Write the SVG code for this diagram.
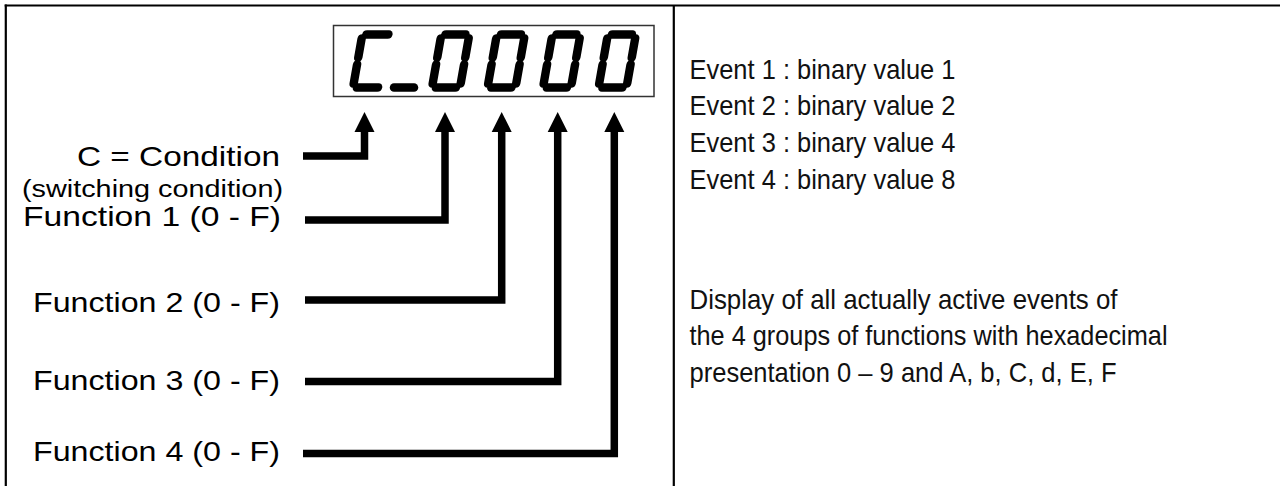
<svg xmlns="http://www.w3.org/2000/svg" width="1280" height="486" viewBox="0 0 1280 486">
<style>
.frame{stroke:#000;stroke-width:2.2;fill:none}
.lbl{font-family:"Liberation Sans",Arial,sans-serif;fill:#000}
.rt{font-family:"Liberation Sans",Arial,sans-serif;font-size:28px;fill:#111}
.conn{stroke:#000;stroke-width:7.5;fill:none;stroke-linejoin:miter;marker-end:url(#ah)}
.seg{stroke:#000;stroke-width:8.5;stroke-linecap:round;fill:none}
</style>
<defs>
<marker id="ah" markerUnits="userSpaceOnUse" markerWidth="21" markerHeight="22" refX="1" refY="10" orient="auto" viewBox="0 0 21 20">
<path d="M0,0 L20,10 L0,20 Z" fill="#000"/>
</marker>
<g id="zero" class="seg">
<line x1="4" y1="-53" x2="24" y2="-53"/>
<line x1="4" y1="0" x2="24" y2="0"/>
<line x1="0" y1="-49" x2="0" y2="-30"/>
<line x1="0" y1="-23" x2="0" y2="-4"/>
<line x1="28" y1="-49" x2="28" y2="-30"/>
<line x1="28" y1="-23" x2="28" y2="-4"/>
</g>
</defs>
<rect width="1280" height="486" fill="#fff"/>
<g id="frame" class="frame">
<line x1="4.7" y1="5.5" x2="1280" y2="5.5"/>
<line x1="5.8" y1="4.4" x2="5.8" y2="486"/>
<line x1="673.8" y1="5.5" x2="673.8" y2="486"/>
</g>
<g id="display" aria-label="C_0000">
<rect x="333.5" y="25.5" width="320.5" height="71" fill="none" stroke="#333" stroke-width="1.5"/>
<g transform="translate(353,87.5) skewX(-10)" class="seg">
<line x1="4" y1="-53" x2="26" y2="-53"/>
<line x1="4" y1="0" x2="25" y2="0"/>
<line x1="0" y1="-49" x2="0" y2="-30"/>
<line x1="0" y1="-23" x2="0" y2="-4"/>
</g>
<line class="seg" x1="394" y1="87.5" x2="414" y2="87.5"/>
<use href="#zero" transform="translate(432,87.5) skewX(-10)"/>
<use href="#zero" transform="translate(487.5,87.5) skewX(-10)"/>
<use href="#zero" transform="translate(543,87.5) skewX(-10)"/>
<use href="#zero" transform="translate(598.5,87.5) skewX(-10)"/>
</g>
<g id="label-c">
<text class="lbl" x="77" y="166" font-size="28" textLength="203" lengthAdjust="spacingAndGlyphs">C = Condition</text>
<text class="lbl" x="22" y="197" font-size="23.5" textLength="261" lengthAdjust="spacingAndGlyphs">(switching condition)</text>
</g>
<g id="label-f1"><text class="lbl" x="23" y="226" font-size="28" textLength="258" lengthAdjust="spacingAndGlyphs">Function 1 (0 - F)</text></g>
<g id="label-f2"><text class="lbl" x="33" y="312" font-size="28" textLength="247" lengthAdjust="spacingAndGlyphs">Function 2 (0 - F)</text></g>
<g id="label-f3"><text class="lbl" x="33" y="390" font-size="28" textLength="247" lengthAdjust="spacingAndGlyphs">Function 3 (0 - F)</text></g>
<g id="label-f4"><text class="lbl" x="33" y="461" font-size="28" textLength="247" lengthAdjust="spacingAndGlyphs">Function 4 (0 - F)</text></g>
<g id="connectors">
<path class="conn" d="M303,156 H364.5 V131"/>
<path class="conn" d="M305,220 H445 V131"/>
<path class="conn" d="M305,300 H501.7 V131"/>
<path class="conn" d="M305,381.5 H557.7 V131"/>
<path class="conn" d="M303,453.5 H614.3 V131"/>
</g>
<g id="events">
<text class="rt" x="689.5" y="78.5" textLength="266" lengthAdjust="spacingAndGlyphs">Event 1 : binary value 1</text>
<text class="rt" x="689.5" y="115" textLength="266" lengthAdjust="spacingAndGlyphs">Event 2 : binary value 2</text>
<text class="rt" x="689.5" y="152" textLength="266" lengthAdjust="spacingAndGlyphs">Event 3 : binary value 4</text>
<text class="rt" x="689.5" y="188.5" textLength="266" lengthAdjust="spacingAndGlyphs">Event 4 : binary value 8</text>
</g>
<g id="description">
<text class="rt" x="689.5" y="308.5" textLength="428" lengthAdjust="spacingAndGlyphs">Display of all actually active events of</text>
<text class="rt" x="689.5" y="345" textLength="478" lengthAdjust="spacingAndGlyphs">the 4 groups of functions with hexadecimal</text>
<text class="rt" x="689.5" y="381.5" textLength="427" lengthAdjust="spacingAndGlyphs">presentation 0 – 9 and A, b, C, d, E, F</text>
</g>
</svg>
